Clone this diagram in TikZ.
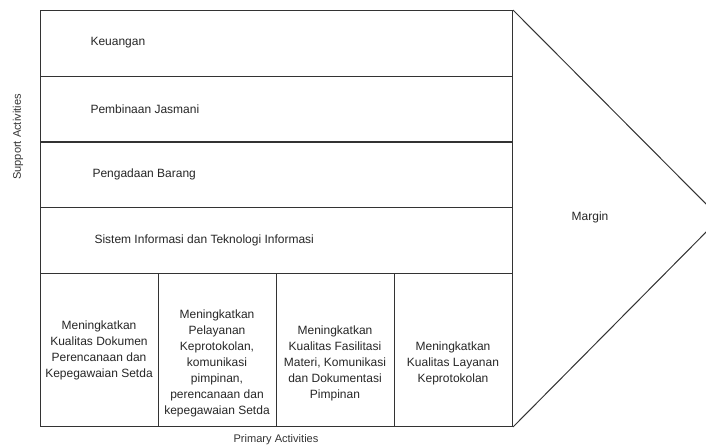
\documentclass[tikz,border=0pt]{standalone}
\usepackage{fontspec}
\setmainfont{Liberation Sans}
\begin{document}
\begin{tikzpicture}[x=0.75pt,y=-0.75pt,
  line width=0.75pt,
  rowbox/.style={draw=black!80, anchor=north west, inner sep=0pt,
    minimum width=354pt, minimum height=49.3pt},
  colbox/.style={draw=black!80, anchor=north west, inner sep=0pt,
    minimum width=88.5pt, minimum height=114.75pt},
  lbl/.style={font=\fontsize{9}{12}\selectfont, text=black!85, inner sep=0pt},
  clbl/.style={lbl, align=center},
  side/.style={font=\fontsize{8.3}{10}\selectfont, text=black!80, inner sep=0pt},
  edge/.style={draw=black!80, line width=0.75pt}]
\useasboundingbox (0,0) rectangle (706,447);
\clip (0,0) rectangle (706,447);
% support rows
\node[rowbox] (r1) at (40,10) {};
\node[rowbox] (r2) at (40,75.75) {};
\node[rowbox] (r3) at (40,141.5) {};
\node[rowbox] (r4) at (40,207.25) {};
% primary columns
\node[colbox] (p1) at (40,273) {};
\node[colbox] (p2) at (158,273) {};
\node[colbox] (p3) at (276,273) {};
\node[colbox] (p4) at (394,273) {};
% margin triangle
\coordinate (apex) at (720,218);
\draw[edge] (r1.north east) -- (apex) -- (p4.south east);
% row texts
\node[lbl, anchor=west] (t1) at (90,43) {Keuangan};
\node[lbl, anchor=west] (t2) at (90,109) {Pembinaan Jasmani};
\node[lbl, anchor=west] (t3) at (92,174.5) {Pengadaan Barang};
\node[lbl, anchor=west] (t4) at (94,240) {Sistem Informasi dan Teknologi Informasi};
% column texts
\node[clbl] (c1) at (99,350.5) {Meningkatkan\\Kualitas Dokumen\\Perencanaan dan\\Kepegawaian Setda};
\node[clbl] (c2) at (217,363.5) {Meningkatkan\\Pelayanan\\Keprotokolan,\\komunikasi\\pimpinan,\\perencanaan dan\\kepegawaian Setda};
\node[clbl] (c3) at (335,363.5) {Meningkatkan\\Kualitas Fasilitasi\\Materi, Komunikasi\\dan Dokumentasi\\Pimpinan};
\node[clbl] (c4) at (453,363.5) {Meningkatkan\\Kualitas Layanan\\Keprotokolan};
% margin label
\node[lbl] (m) at (590,217) {Margin};
% axis labels
\node[side, rotate=90] (sa) at (18,137) {Support Activities};
\node[side] (pa) at (276,440) {Primary Activities};
\end{tikzpicture}
\end{document}
